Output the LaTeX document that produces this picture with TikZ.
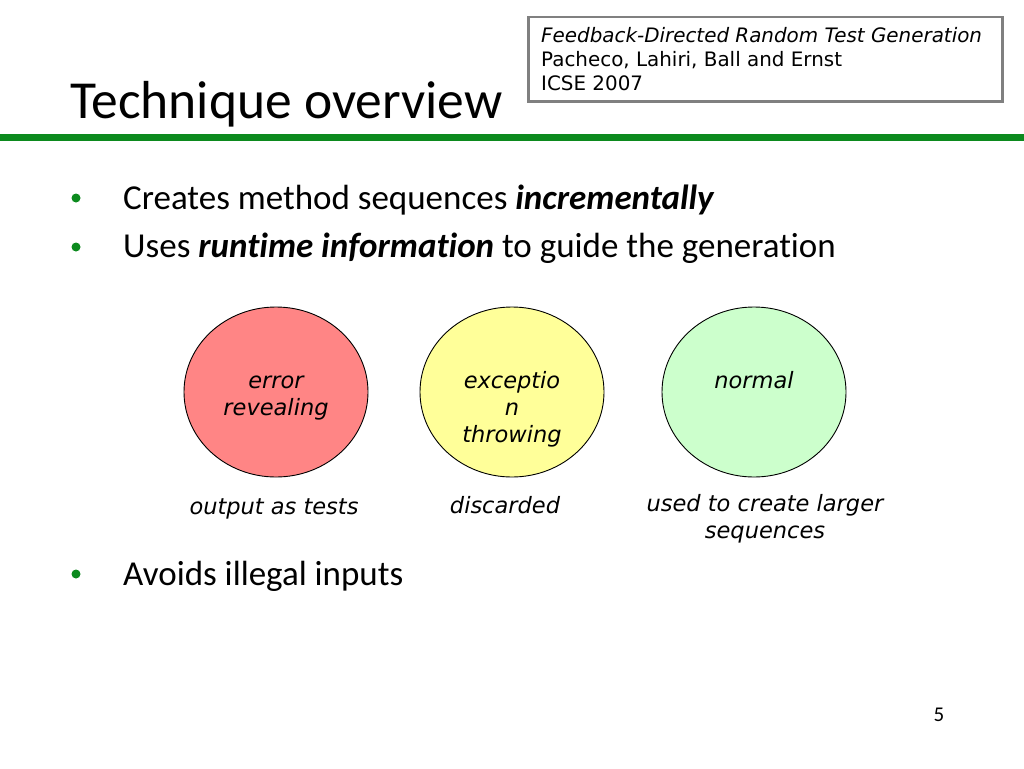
\documentclass[tikz,border=0pt]{standalone}
\usepackage{fontspec}
\setmainfont{Carlito}[Ligatures = NoCommon]
\newfontfamily\verdfont{DejaVu Sans}
\usetikzlibrary{shapes.geometric, positioning}
\definecolor{slidegreen}{RGB}{12,138,30}
\definecolor{boxgray}{RGB}{128,128,128}
\definecolor{errred}{RGB}{255,133,133}
\definecolor{excyellow}{RGB}{255,255,153}
\definecolor{nrmgreen}{RGB}{204,255,204}
\tikzset{
  Outcome/.style = {
    draw, ellipse, line width = 0.9pt,
    minimum width = 184pt, minimum height = 170pt,
  },
  OutText/.style = {
    anchor = north, align = center, inner sep = 0pt,
    font = \verdfont\itshape\fontsize{22.5}{27}\selectfont,
  },
  Bullet/.style = {circle, fill = slidegreen, inner sep = 0pt, minimum size = 9pt},
  BulletText/.style = {anchor = base west, inner sep = 0pt, font = \fontsize{35}{40}\selectfont},
}

\begin{document}
\begin{tikzpicture}[x = 1pt, y = -1pt]
      \useasboundingbox[fill = white] (0,0) rectangle (1024,768);
      % header
      \node[anchor = base west, inner sep = 0pt, font = \fontsize{53.5}{60}\selectfont]
        (title) at (70,118) {Technique overview};
      \fill[slidegreen] (0,134) rectangle (1024,141);
      \node[draw = boxgray, line width = 2.5pt, anchor = north west, inner sep = 0pt,
        minimum width = 474pt, minimum height = 84pt] (ref) at (527,16) {};
      \node[anchor = north west, align = left, inner sep = 0pt,
        font = \verdfont\fontsize{19.9}{24}\selectfont] (reftext) at (541,27)
        {\textit{Feedback-Directed Random Test Generation}\\
         Pacheco, Lahiri, Ball and Ernst\\
         ICSE 2007};
      % bullets
      \node[Bullet] (b1) at (76,198) {};
      \node[BulletText] (t1) at (123,209) {Creates method sequences \textbf{\textit{incrementally}}};
      \node[Bullet] (b2) at (76,247) {};
      \node[BulletText] (t2) at (123,257) {Uses \textbf{\textit{runtime information}} to guide the generation};
      \node[Bullet] (b3) at (76,574) {};
      \node[BulletText] (t3) at (123,585) {Avoids illegal inputs};
      % outcomes
      \node[Outcome, fill = errred] (err) at (276,392) {};
      \node[Outcome, fill = excyellow] (exc) at (512,392) {};
      \node[Outcome, fill = nrmgreen] (nrm) at (754,392) {};
      \node[OutText] (errlbl) at ([yshift = -63pt]err.north) {\strut error\\revealing};
      \node[OutText] (exclbl) at ([yshift = -63pt]exc.north) {\strut exceptio\\n\\throwing};
      \node[OutText] (nrmlbl) at ([yshift = -63pt]nrm.north) {\strut normal};
      \node[OutText] (errout) at (274,495) {\strut output as tests};
      \node[OutText] (excout) at (505,494) {\strut discarded};
      \node[OutText] (nrmout) at (765,492) {\strut used to create larger\\sequences};
      \node[inner sep = 0pt, font = \fontsize{21}{24}\selectfont] (page) at (939,715) {5};
    \end{tikzpicture}
\end{document}
